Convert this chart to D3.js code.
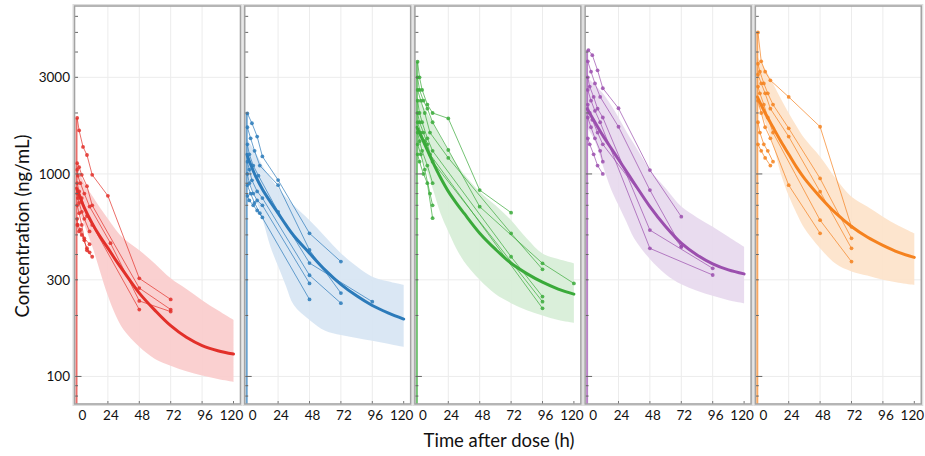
<!DOCTYPE html>
<html><head><meta charset="utf-8">
<script src="https://cdn.jsdelivr.net/npm/d3@7"></script>
<style>
body{margin:0;background:#fff}
svg{display:block}
text{font-family:Lato,"Open Sans",sans-serif;fill:#111}
</style>
</head><body><svg id="c" width="925" height="456"></svg>
<script>
// ---- data ----
const times = [0,6,12,18,24,30,36,48,60,72,84,96,108,120];
const xTicks = [0,24,48,72,96,120];
const xGrid = [24,48,72,96];
const yTickLabels = [100,300,1000,3000];
const yMinorTicks = [80,90,100,200,300,400,500,600,700,800,900,1000,2000,3000,4000,5000,6000];
const colors = ["#e2302a","#2c7bba","#3aaa3a","#9b4fae","#f5821f"];
const bandColors = ["#f9cbcb","#d6e4f3","#d6edd6","#e7d8ed","#fde2c9"];

const meanRed    = [850,680,570,490,430,375,330,258,212,178,156,142,134,129];
const loRed      = [700,560,440,330,250,200,170,140,122,113,106,101,97,94];
const hiRed      = [1100,900,780,680,600,530,480,420,360,305,270,238,212,190];
const meanBlue   = [1250,1000,840,730,640,560,495,406,335,285,250,224,206,192];
const loBlue     = [1000,780,600,440,350,280,225,190,168,160,155,150,145,140];
const hiBlue     = [1500,1300,1100,960,850,770,700,590,490,406,350,311,295,283];
const meanGreen  = [1700,1400,1150,960,820,720,640,510,425,362,322,292,270,255];
const loGreen    = [1300,1100,850,640,520,430,370,300,255,230,212,200,190,184];
const hiGreen    = [2400,2100,1800,1520,1300,1130,1000,817,700,591,480,405,380,362];
const meanPurple = [2100,1800,1550,1350,1180,1030,900,690,550,455,398,360,336,321];
const loPurple   = [1700,1450,1100,850,700,580,480,380,320,285,265,250,238,230];
const hiPurple   = [3000,2750,2500,2200,1900,1620,1400,1050,850,690,610,548,490,437];
const meanOrange = [2400,2000,1700,1450,1250,1080,950,770,640,550,488,444,410,387];
const loOrange   = [2200,1800,1400,1000,780,640,540,430,360,330,315,300,290,283];
const hiOrange   = [3800,3300,2800,2350,2000,1720,1500,1216,950,771,690,615,555,509];

const subjRed = [
  [[0.5,1890],[2,1640],[5,1360],[8,1240],[12,990],[24,780],[48,305],[72,240]],
  [[0.5,1130],[2,1080],[4,990],[8,870],[12,700],[48,273],[72,214]],
  [[0.5,1050],[1,980],[3,900],[6,800],[10,690],[26,455],[48,236],[72,209]],
  [[0.5,900],[2,820],[4,760],[8,620],[12,560],[48,214]],
  [[0.5,800],[1,760],[2,720],[4,650],[6,600],[10,520]],
  [[0.5,700],[2,640],[4,560],[6,470],[8,420],[12,390]],
  [[0.5,600],[1,560],[3,530],[6,480],[10,450]],
  [[0.5,560],[2,520],[4,500],[8,430],[10,410]]
];
const subjBlue = [
  [[0.5,1990],[4,1780],[8,1530],[12,1220],[24,933],[48,509],[72,369]],
  [[0.5,1700],[3,1500],[6,1300],[10,1100],[24,880],[48,421],[72,258]],
  [[0.5,1400],[2,1250],[5,1100],[9,980],[24,650],[48,363],[96,234]],
  [[0.5,1150],[2,1050],[4,930],[8,820],[12,760],[48,316],[72,230]],
  [[0.5,1000],[2,900],[5,800],[8,740],[12,700],[48,288]],
  [[0.5,880],[3,800],[6,720],[10,640],[48,240]],
  [[0.5,780],[2,740],[5,700],[8,660],[12,610]]
];
const subjGreen = [
  [[0.5,3580],[2,3000],[4,2600],[8,2200],[12,2000],[24,1880],[48,832],[72,644]],
  [[0.5,3000],[2,2600],[5,2300],[8,2100],[12,1800],[24,1313],[48,689],[96,362],[120,288]],
  [[0.5,2600],[3,2300],[6,2000],[10,1600],[24,1200],[72,509],[96,338]],
  [[0.5,2300],[2,2000],[4,1800],[8,1500],[12,1300],[72,390],[96,248]],
  [[0.5,2000],[2,1800],[5,1600],[8,1400],[12,1150],[96,234]],
  [[0.5,1800],[3,1600],[6,1450],[10,1250],[96,217]],
  [[0.5,1600],[2,1450],[4,1300],[8,1100],[12,900]],
  [[0.5,1400],[3,1250],[6,1050],[10,800],[12,700]],
  [[0.5,1250],[2,1150],[5,1000],[8,900],[12,605]]
];
const subjPurple = [
  [[1,4090],[4,3860],[8,3250],[12,2650],[24,2110],[48,1045],[72,615]],
  [[0.5,3600],[3,3200],[6,2800],[10,2400],[24,1710],[48,832],[72,437]],
  [[0.5,3000],[2,2700],[5,2400],[8,2100],[12,1900],[48,528],[96,342]],
  [[0.5,2600],[3,2300],[6,2050],[10,1800],[48,429],[96,317]],
  [[0.5,2200],[2,2000],[4,1850],[8,1600],[12,1400],[72,437]],
  [[0.5,1900],[3,1700],[6,1500],[10,1300],[12,1150]],
  [[0.5,1500],[2,1400],[5,1250],[8,1100],[12,1000]]
];
const subjOrange = [
  [[0.5,5000],[3,3600],[6,3200],[10,2900],[24,2400],[48,1710],[72,548]],
  [[0.5,3500],[2,3200],[5,2800],[8,2500],[12,2200],[24,1680],[48,950],[72,481]],
  [[0.5,3100],[3,2800],[6,2500],[10,2100],[24,1530],[48,817],[72,429]],
  [[0.5,2700],[2,2500],[5,2200],[8,1900],[12,1600],[48,591],[72,369]],
  [[0.5,2300],[3,2000],[6,1700],[10,1500],[24,880],[48,509]],
  [[0.5,1800],[2,1600],[5,1400],[8,1300],[12,1150]],
  [[0.5,1400],[3,1300],[6,1200],[10,1100]]
];

const panels = [
  {mean:meanRed, lo:loRed, hi:hiRed, subj:subjRed},
  {mean:meanBlue, lo:loBlue, hi:hiBlue, subj:subjBlue},
  {mean:meanGreen, lo:loGreen, hi:hiGreen, subj:subjGreen},
  {mean:meanPurple, lo:loPurple, hi:hiPurple, subj:subjPurple},
  {mean:meanOrange, lo:loOrange, hi:hiOrange, subj:subjOrange}
];

// ---- layout ----
const svg = d3.select("#c");
const pTop = 6, pBottom = 404, pw = 166, firstLeft = 74.5, step = 170.2;
const x = d3.scaleLinear().domain([0,120]).range([2,159]);
const y = d3.scaleLog().domain([73.1,6750]).range([pBottom,pTop]);

const defs = svg.append("defs");
defs.append("clipPath").attr("id","clip").append("rect")
  .attr("x",0).attr("y",pTop).attr("width",pw).attr("height",pBottom-pTop);

const labelDx = t => t===0 ? 6 : (t===120 ? -2 : 3);
const smooth = d3.curveCatmullRom.alpha(0.5);

panels.forEach((p,i)=>{
  const left = firstLeft + i*step;
  const g = svg.append("g").attr("transform",`translate(${left},0)`);
  const col = colors[i];

  g.append("rect").attr("x",-1.5).attr("y",pTop-1.5).attr("width",pw+3).attr("height",pBottom-pTop+3)
    .attr("fill","none").attr("stroke","#dcdcdc").attr("stroke-width",1);

  g.selectAll(".vg").data(xGrid).join("line")
    .attr("x1",d=>x(d)).attr("x2",d=>x(d)).attr("y1",pTop).attr("y2",pBottom)
    .attr("stroke","#ececec").attr("stroke-width",1);
  g.selectAll(".hg").data(yTickLabels).join("line")
    .attr("x1",0).attr("x2",pw).attr("y1",d=>y(d)).attr("y2",d=>y(d))
    .attr("stroke","#ececec").attr("stroke-width",1);

  const pg = g.append("g").attr("clip-path","url(#clip)");

  const area = d3.area().x((d,k)=>x(times[k])).y0((d,k)=>y(p.lo[k])).y1((d,k)=>y(p.hi[k]))
    .curve(smooth);
  pg.append("path").datum(times).attr("d",area).attr("fill",bandColors[i]).attr("opacity",0.9);

  const maxFirst = d3.max(p.subj, s=>s[0][1]);
  pg.append("line").attr("x1",x(0)).attr("x2",x(0)).attr("y1",y(maxFirst)).attr("y2",pBottom)
    .attr("stroke",col).attr("stroke-width",2).attr("opacity",0.7);

  const line = d3.line().x(d=>x(d[0])).y(d=>y(d[1]));
  p.subj.forEach(s=>{
    pg.append("path").datum([[0,s[0][1]],...s]).attr("d",line).attr("fill","none")
      .attr("stroke",col).attr("stroke-width",1).attr("opacity",0.7);
    pg.selectAll(null).data(s).join("circle")
      .attr("cx",d=>x(d[0])).attr("cy",d=>y(d[1])).attr("r",1.9)
      .attr("fill",col).attr("opacity",0.85);
  });

  const mline = d3.line().x((d,k)=>x(times[k])).y(d=>y(d)).curve(smooth);
  pg.append("path").datum(p.mean).attr("d",mline).attr("fill","none")
    .attr("stroke",col).attr("stroke-width",3).attr("stroke-linecap","round");

  g.selectAll(".yt").data(yMinorTicks).join("line")
    .attr("x1",0).attr("x2",d=>(d===100||d===1000)?7:3.5)
    .attr("y1",d=>y(d)).attr("y2",d=>y(d))
    .attr("stroke","#666").attr("stroke-width",1);
  g.selectAll(".xt").data(xTicks.slice(1)).join("line")
    .attr("x1",d=>x(d)).attr("x2",d=>x(d)).attr("y1",pBottom).attr("y2",pBottom-3)
    .attr("stroke","#777").attr("stroke-width",1);

  g.append("rect").attr("x",0).attr("y",pTop).attr("width",pw).attr("height",pBottom-pTop)
    .attr("fill","none").attr("stroke","#a3a3a3").attr("stroke-width",1.6);

  g.selectAll(".xl").data(xTicks).join("text")
    .attr("x",d=>x(d)+labelDx(d)).attr("y",420)
    .attr("text-anchor","middle").attr("font-size",13.5).text(d=>d);
});

svg.selectAll(".yl").data(yTickLabels).join("text")
  .attr("x",70).attr("y",d=>y(d)).attr("dy","0.35em")
  .attr("text-anchor","end").attr("font-size",13.5).text(d=>d);

svg.append("text").attr("transform","translate(29,226) rotate(-90)")
  .attr("text-anchor","middle").attr("font-size",18.5).text("Concentration (ng/mL)");
svg.append("text").attr("x",499).attr("y",447)
  .attr("text-anchor","middle").attr("font-size",18.5).text("Time after dose (h)");
</script>
</body></html>
